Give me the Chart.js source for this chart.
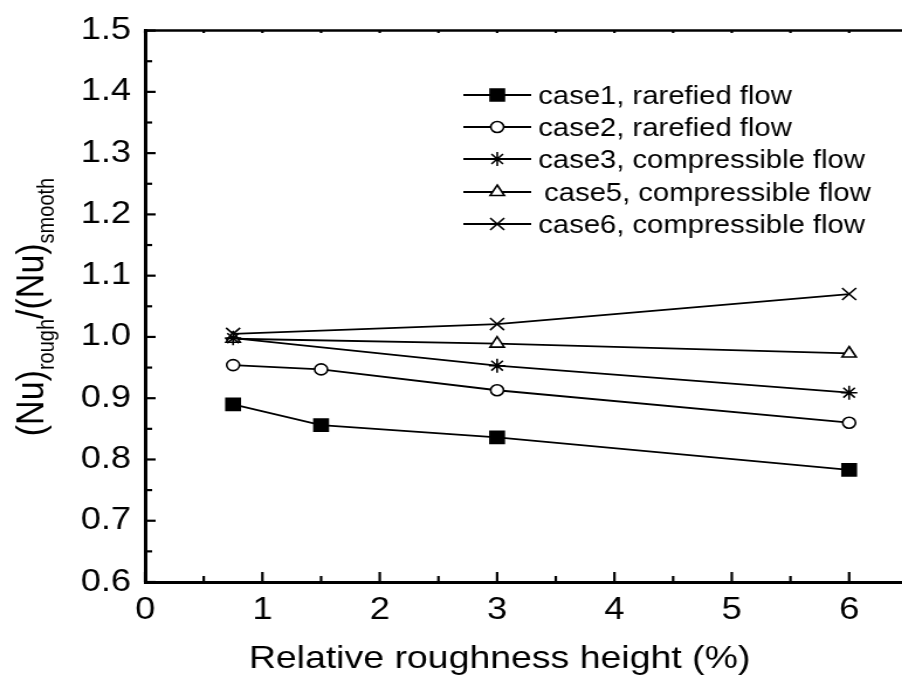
<!DOCTYPE html>
<html>
<head>
<meta charset="utf-8">
<script src="https://cdn.jsdelivr.net/npm/chart.js@4/dist/chart.umd.min.js"></script>
<style>
    body { margin: 0; background: #fff; overflow: hidden; }
    #wrap { width: 786px; height: 675px; transform: scaleX(1.17); transform-origin: 0 0; }
</style>
</head>
<body>
<div id="wrap"><canvas id="nuChart" width="786" height="675"></canvas></div>
<script>
// Data
const xFour = [0.75, 1.5, 3, 6];
const xThree = [0.75, 3, 6];
const case1 = [0.890, 0.856, 0.836, 0.783];
const case2 = [0.954, 0.947, 0.913, 0.860];
const case3 = [0.998, 0.953, 0.909];
const case5 = [0.997, 0.989, 0.973];
const case6 = [1.005, 1.021, 1.070];
const seriesLabels = ['case1, rarefied flow', 'case2, rarefied flow', 'case3, compressible flow',
    'case5, compressible flow', 'case6, compressible flow'];
const xTicks = [0, 1, 2, 3, 4, 5, 6];
const yTicks = [0.6, 0.7, 0.8, 0.9, 1.0, 1.1, 1.2, 1.3, 1.4, 1.5];

const FONT = '"Liberation Sans", Arial, sans-serif';

const pts = (xs, ys) => xs.map((x, i) => ({ x: x, y: ys[i] }));

const styles = [
    { pointStyle: 'rect', radius: 8.5, bg: '#000' },
    { pointStyle: 'circle', radius: 5.5, bg: '#fff' },
    { pointStyle: 'star', radius: 7, bg: '#000' },
    { pointStyle: 'triangle', radius: 7, bg: '#fff' },
    { pointStyle: 'crossRot', radius: 8.5, bg: '#000' }
];
const seriesData = [pts(xFour, case1), pts(xFour, case2), pts(xThree, case3), pts(xThree, case5), pts(xThree, case6)];

const datasets = seriesData.map((d, i) => ({
    label: seriesLabels[i],
    data: d,
    borderColor: '#000',
    borderWidth: 1.8,
    backgroundColor: styles[i].bg,
    pointStyle: styles[i].pointStyle,
    pointRadius: styles[i].radius,
    pointBorderWidth: 1.6,
    pointBorderColor: '#000',
    pointBackgroundColor: styles[i].bg,
    tension: 0
}));

// inside ticks, top frame, axis titles and legend
const decorations = {
    id: 'decorations',
    afterDraw(chart) {
        const ctx = chart.ctx;
        const a = chart.chartArea;
        const xs = chart.scales.x, ys = chart.scales.y;
        ctx.save();
        ctx.strokeStyle = '#000';
        ctx.lineWidth = 2.5;
        ctx.beginPath();
        ctx.moveTo(a.left, a.top);
        ctx.lineTo(a.right, a.top);
        ctx.stroke();

        ctx.lineWidth = 2.2;
        for (let v = 0; v <= 6.5; v += 0.5) {
            const px = xs.getPixelForValue(v);
            if (px > a.right - 2) break;
            const len = Number.isInteger(v) ? 10 : 6;
            ctx.beginPath();
            ctx.moveTo(px, a.bottom);
            ctx.lineTo(px, a.bottom - len);
            ctx.moveTo(px, a.top);
            ctx.lineTo(px, a.top + 2.5);
            ctx.stroke();
        }
        for (let k = 0; k <= 18; k++) {
            const v = 0.6 + k * 0.05;
            const py = ys.getPixelForValue(v);
            const len = k % 2 === 0 ? 9 : 6;
            ctx.beginPath();
            ctx.moveTo(a.left, py);
            ctx.lineTo(a.left + len, py);
            ctx.stroke();
        }

        // x axis title
        ctx.fillStyle = '#000';
        ctx.font = '32px ' + FONT;
        ctx.textAlign = 'center';
        ctx.textBaseline = 'alphabetic';
        ctx.fillText('Relative roughness height (%)', 427, 668);

        // y axis title with subscripts
        ctx.save();
        ctx.translate(37, 307);
        ctx.rotate(-Math.PI / 2);
        const big = '34px ' + FONT, small = '20px ' + FONT;
        const parts = [['(Nu)', big, 0], ['rough', small, 9], ['/(Nu)', big, 0], ['smooth', small, 9]];
        let total = 0;
        parts.forEach(p => { ctx.font = p[1]; total += ctx.measureText(p[0]).width; });
        let cx = -total / 2;
        ctx.textAlign = 'left';
        parts.forEach(p => {
            ctx.font = p[1];
            ctx.fillText(p[0], cx, p[2]);
            cx += ctx.measureText(p[0]).width;
        });
        ctx.restore();

        // legend
        const rows = [95, 127, 159, 192, 224];
        ctx.font = '25px ' + FONT;
        ctx.textAlign = 'left';
        rows.forEach((ry, i) => {
            ctx.strokeStyle = '#000';
            ctx.lineWidth = 1.8;
            ctx.beginPath();
            ctx.moveTo(396, ry);
            ctx.lineTo(454, ry);
            ctx.stroke();
            ctx.fillStyle = styles[i].bg;
            ctx.lineWidth = 1.6;
            Chart.helpers.drawPoint(ctx, {
                pointStyle: styles[i].pointStyle, radius: styles[i].radius, rotation: 0, borderWidth: 1.6
            }, 425, ry);
            ctx.fillStyle = '#000';
            ctx.fillText(seriesLabels[i], i === 3 ? 465 : 460, ry + 9);
        });
        ctx.restore();
    }
};

new Chart(document.getElementById('nuChart').getContext('2d'), {
    type: 'line',
    data: { datasets: datasets },
    options: {
        responsive: false,
        animation: false,
        layout: { padding: { top: 30, right: 3, bottom: 0, left: 0 } },
        plugins: { legend: { display: false }, tooltip: { enabled: false } },
        scales: {
            x: {
                type: 'linear',
                min: 0,
                max: 6.5,
                grid: { display: false, drawTicks: false },
                border: { display: true, color: '#000', width: 3 },
                afterFit: s => { s.height = 93; },
                afterBuildTicks: s => { s.ticks = xTicks.map(v => ({ value: v })); },
                ticks: {
                    padding: 10,
                    color: '#000',
                    font: { size: 31, family: FONT },
                    callback: v => String(v)
                }
            },
            y: {
                min: 0.6,
                max: 1.5,
                grid: { display: false, drawTicks: false },
                border: { display: true, color: '#000', width: 3 },
                afterFit: s => { s.width = 124; },
                afterBuildTicks: s => { s.ticks = yTicks.map(v => ({ value: v })); },
                ticks: {
                    padding: 12,
                    color: '#000',
                    font: { size: 31, family: FONT },
                    callback: v => Number(v).toFixed(1)
                }
            }
        }
    },
    plugins: [decorations]
});
</script>
</body>
</html>
